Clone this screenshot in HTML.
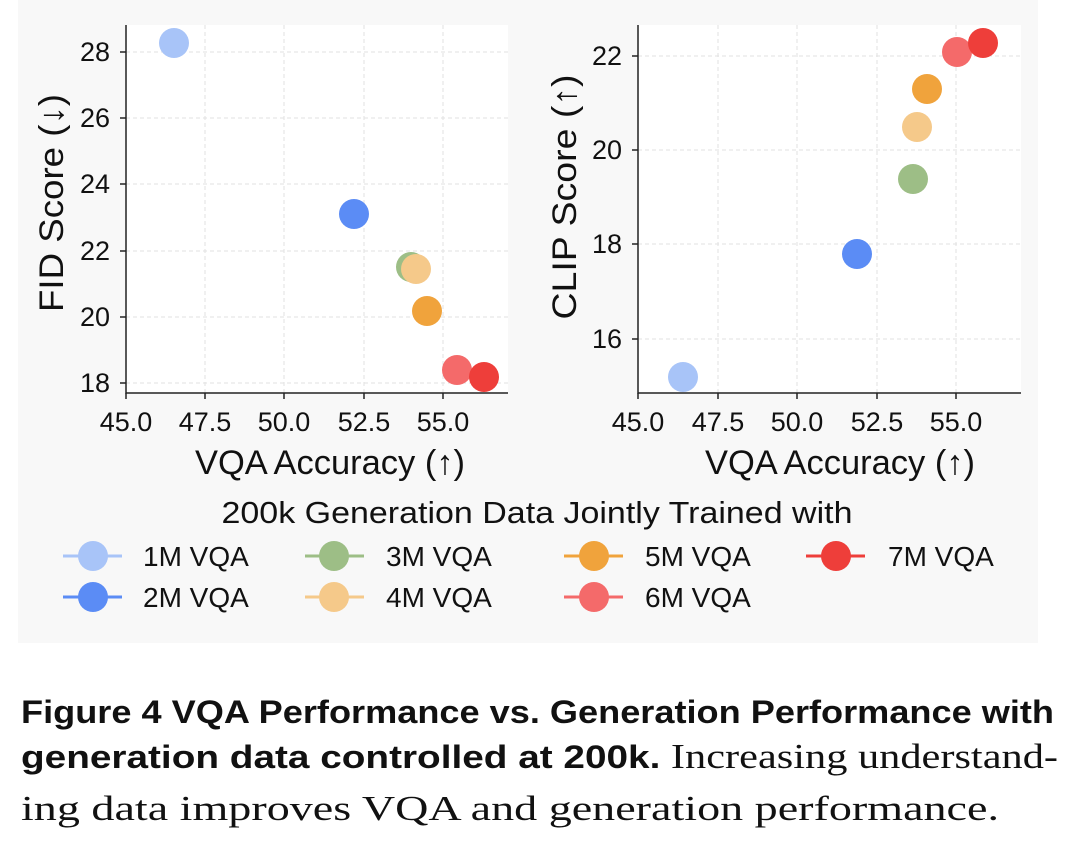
<!DOCTYPE html>
<html><head><meta charset="utf-8"><style>
html,body{margin:0;padding:0;background:#fff;width:1080px;height:845px;overflow:hidden}
svg{display:block}
</style></head><body>
<svg width="1080" height="845" viewBox="0 0 1080 845" font-family="Liberation Sans, sans-serif">
<rect x="18" y="0" width="1020" height="643" fill="#f8f8f8"/>
<rect x="126" y="25" width="382" height="368" fill="#fff"/>
<rect x="638" y="25" width="383" height="368" fill="#fff"/>
<g stroke="#e2e2e2" stroke-width="1" stroke-dasharray="4,3">
<line x1="205" y1="25" x2="205" y2="393"/><line x1="284" y1="25" x2="284" y2="393"/><line x1="364" y1="25" x2="364" y2="393"/><line x1="443" y1="25" x2="443" y2="393"/>
<line x1="126" y1="52" x2="508" y2="52"/><line x1="126" y1="118" x2="508" y2="118"/><line x1="126" y1="184" x2="508" y2="184"/><line x1="126" y1="251" x2="508" y2="251"/><line x1="126" y1="317" x2="508" y2="317"/><line x1="126" y1="383" x2="508" y2="383"/>
<line x1="718" y1="25" x2="718" y2="393"/><line x1="797" y1="25" x2="797" y2="393"/><line x1="877" y1="25" x2="877" y2="393"/><line x1="956" y1="25" x2="956" y2="393"/>
<line x1="638" y1="56" x2="1021" y2="56"/><line x1="638" y1="150" x2="1021" y2="150"/><line x1="638" y1="244" x2="1021" y2="244"/><line x1="638" y1="339" x2="1021" y2="339"/>
</g>
<g stroke="#222" stroke-width="1.5" fill="none">
<polyline points="126,25 126,393 508,393"/>
<polyline points="638,25 638,393 1021,393"/>
<path d="M126,393v6M205,393v6M284,393v6M364,393v6M443,393v6M126,52h-6M126,118h-6M126,184h-6M126,251h-6M126,317h-6M126,383h-6"/>
<path d="M638,393v6M718,393v6M797,393v6M877,393v6M956,393v6M638,56h-6M638,150h-6M638,244h-6M638,339h-6"/>
</g>
<g font-size="27" fill="#111">
<g text-anchor="end"><text x="110" y="61">28</text><text x="110" y="127">26</text><text x="110" y="193">24</text><text x="110" y="260">22</text><text x="110" y="326">20</text><text x="110" y="392">18</text>
<text x="622" y="65">22</text><text x="622" y="159">20</text><text x="622" y="253">18</text><text x="622" y="348">16</text></g>
<g text-anchor="middle"><text x="126" y="431">45.0</text><text x="205" y="431">47.5</text><text x="284" y="431">50.0</text><text x="364" y="431">52.5</text><text x="443" y="431">55.0</text>
<text x="638" y="431">45.0</text><text x="718" y="431">47.5</text><text x="797" y="431">50.0</text><text x="877" y="431">52.5</text><text x="956" y="431">55.0</text></g>
</g>
<g font-size="34" fill="#111" text-anchor="middle">
<text x="330" y="474" textLength="270" lengthAdjust="spacingAndGlyphs">VQA Accuracy (↑)</text>
<text x="840" y="474" textLength="270" lengthAdjust="spacingAndGlyphs">VQA Accuracy (↑)</text>
<text transform="translate(63,203) rotate(-90)" textLength="218" lengthAdjust="spacingAndGlyphs">FID Score (↓)</text>
<text transform="translate(576,197) rotate(-90)" textLength="245" lengthAdjust="spacingAndGlyphs">CLIP Score (↑)</text>
</g>
<g>
<circle cx="174" cy="43" r="15" fill="#a8c4f8"/>
<circle cx="354" cy="214" r="15" fill="#5b8cf5"/>
<circle cx="411" cy="267" r="15" fill="#9dbe86"/>
<circle cx="416" cy="269" r="15" fill="#f5c98a"/>
<circle cx="427" cy="311" r="15" fill="#f0a33c"/>
<circle cx="457" cy="370" r="15" fill="#f46a6a"/>
<circle cx="484" cy="377" r="15" fill="#ee3e3a"/>
<circle cx="683" cy="377" r="15" fill="#a8c4f8"/>
<circle cx="857" cy="254" r="15" fill="#5b8cf5"/>
<circle cx="913" cy="179" r="15" fill="#9dbe86"/>
<circle cx="917" cy="127" r="15" fill="#f5c98a"/>
<circle cx="927" cy="89" r="15" fill="#f0a33c"/>
<circle cx="957" cy="52" r="15" fill="#f46a6a"/>
<circle cx="983" cy="43" r="15" fill="#ee3e3a"/>
</g>
<text x="537" y="523" font-size="31" fill="#111" text-anchor="middle" textLength="631" lengthAdjust="spacingAndGlyphs">200k Generation Data Jointly Trained with</text>
<g stroke-width="3">
<line x1="63" y1="556" x2="122" y2="556" stroke="#a8c4f8"/><circle cx="93" cy="556" r="15" fill="#a8c4f8"/>
<line x1="63" y1="597" x2="122" y2="597" stroke="#5b8cf5"/><circle cx="93" cy="597" r="15" fill="#5b8cf5"/>
<line x1="305" y1="556" x2="364" y2="556" stroke="#9dbe86"/><circle cx="334" cy="556" r="15" fill="#9dbe86"/>
<line x1="305" y1="597" x2="364" y2="597" stroke="#f5c98a"/><circle cx="334" cy="597" r="15" fill="#f5c98a"/>
<line x1="564" y1="556" x2="623" y2="556" stroke="#f0a33c"/><circle cx="594" cy="556" r="15" fill="#f0a33c"/>
<line x1="564" y1="597" x2="623" y2="597" stroke="#f46a6a"/><circle cx="594" cy="597" r="15" fill="#f46a6a"/>
<line x1="806" y1="556" x2="865" y2="556" stroke="#ee3e3a"/><circle cx="836" cy="556" r="15" fill="#ee3e3a"/>
</g>
<g font-size="28" fill="#111">
<text x="143" y="566">1M VQA</text><text x="143" y="607">2M VQA</text>
<text x="386" y="566">3M VQA</text><text x="386" y="607">4M VQA</text>
<text x="645" y="566">5M VQA</text><text x="645" y="607">6M VQA</text>
<text x="888" y="566">7M VQA</text>
</g>
<g fill="#111" font-size="32">
<text x="21" y="723" font-weight="bold" textLength="1033" lengthAdjust="spacingAndGlyphs">Figure 4  VQA Performance vs. Generation Performance with</text>
<text x="21" y="768" textLength="1037" lengthAdjust="spacingAndGlyphs"><tspan font-weight="bold">generation data controlled at 200k.</tspan><tspan font-family="Liberation Serif, serif" font-size="35"> Increasing understand-</tspan></text>
<text x="21" y="820" font-family="Liberation Serif, serif" font-size="35" textLength="978" lengthAdjust="spacingAndGlyphs">ing data improves VQA and generation performance.</text>
</g>
</svg>
</body></html>
